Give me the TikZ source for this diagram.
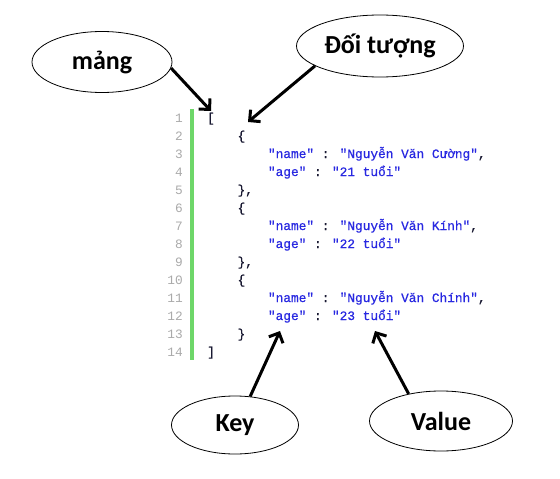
\documentclass[tikz,border=0pt]{standalone}
\usepackage{fontspec}
\setmainfont{Carlito}
\newfontfamily\codefont[FakeBold=0.6]{Liberation Mono}
\newfontfamily\numfont{Liberation Mono}
\usetikzlibrary{arrows.meta,shapes.geometric}
\definecolor{strc}{RGB}{40,40,225}
\definecolor{punc}{RGB}{25,25,50}
\definecolor{numc}{RGB}{170,170,170}
\definecolor{barc}{RGB}{110,215,105}
\begin{document}
\begin{tikzpicture}[x=1pt,y=-1pt,
  bubble/.style={ellipse,draw,line width=0.8pt,inner sep=0pt,font=\bfseries\fontsize{26}{30}\selectfont},
  codeline/.style={anchor=base west,inner sep=0pt,text=punc,font=\codefont\fontsize{12.8}{15}\selectfont},
  lnum/.style={anchor=base east,inner sep=0pt,text=numc,font=\numfont\fontsize{12.8}{15}\selectfont},
  arr/.style={line width=3pt,-{Straight Barb[angle=90:11pt]}}]
\useasboundingbox (0,0) rectangle (560,479);
\fill[white] (0,0) rectangle (560,479);
% green bar
\fill[barc] (190,109) rectangle (193.5,360);
% line numbers
\foreach \i in {1,...,14}{
  \node[lnum] (n\i) at (183,{122+18*(\i-1)}) {\i};
}
% code
\node[codeline] (l1) at (207,122) {[};
\node[codeline] (l2) at (237.4,140) {\{};
\node[codeline] (l3) at (267.8,158) {\textcolor{strc}{"name"} : \textcolor{strc}{"Nguyễn Văn Cường"},};
\node[codeline] (l4) at (267.8,176) {\textcolor{strc}{"age"} : \textcolor{strc}{"21 tuổi"}};
\node[codeline] (l5) at (237.4,194) {\},};
\node[codeline] (l6) at (237.4,212) {\{};
\node[codeline] (l7) at (267.8,230) {\textcolor{strc}{"name"} : \textcolor{strc}{"Nguyễn Văn Kính"},};
\node[codeline] (l8) at (267.8,248) {\textcolor{strc}{"age"} : \textcolor{strc}{"22 tuổi"}};
\node[codeline] (l9) at (237.4,266) {\},};
\node[codeline] (l10) at (237.4,284) {\{};
\node[codeline] (l11) at (267.8,302) {\textcolor{strc}{"name"} : \textcolor{strc}{"Nguyễn Văn Chính"},};
\node[codeline] (l12) at (267.8,320) {\textcolor{strc}{"age"} : \textcolor{strc}{"23 tuổi"}};
\node[codeline] (l13) at (237.4,338) {\}};
\node[codeline] (l14) at (207,356) {]};
% bubbles
\node[bubble,minimum width=140pt,minimum height=61pt] (mang) at (102,62) {mảng};
\node[bubble,minimum width=167pt,minimum height=62pt] (doituong) at (380,46) {Đối tượng};
\node[bubble,minimum width=127pt,minimum height=58pt] (key) at (235,425) {Key};
\node[bubble,minimum width=143pt,minimum height=60pt] (value) at (441,421) {Value};
% arrow tips
\coordinate (tA) at (211,111);
\coordinate (tB) at (248,122);
\coordinate (tC) at (280,331);
\coordinate (tD) at (375,331);
\draw[arr] (mang.-5) -- (tA);
\draw[arr] (doituong.-163) -- (tB);
\draw[arr] (key.62) -- (tC);
\draw[arr] (value.140) -- (tD);
\end{tikzpicture}
\end{document}
